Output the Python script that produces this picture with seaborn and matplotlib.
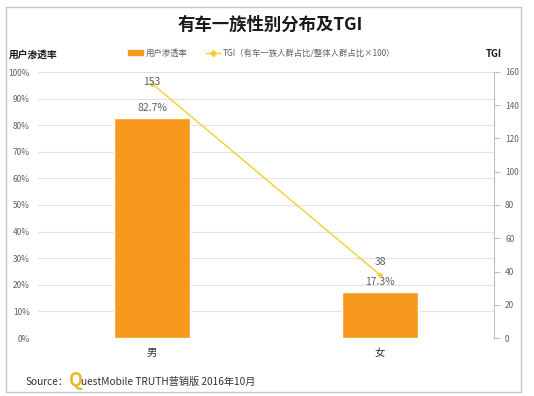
import seaborn as sns
import matplotlib.pyplot as plt
import pandas as pd
from matplotlib.patches import Rectangle
from matplotlib.lines import Line2D
from matplotlib.ticker import PercentFormatter

# dados
generos = ["男", "女"]
penetracao = [82.7, 17.3]
tgi = [153, 38]

sns.set_style("white")
plt.rcParams['font.family'] = ['Noto Sans CJK SC', 'DejaVu Sans']

df = pd.DataFrame({"genero": generos, "pen": penetracao, "tgi": tgi})

laranja = "#f7991c"
amarelo = "#f2d030"
cinza = "#616161"

fig = plt.figure(figsize=(5.34, 3.96), dpi=100)
ax = fig.add_axes([38/534, 1-338/396, 456/534, 266/396])

sns.barplot(data=df, x="genero", y="pen", color=laranja, width=0.33,
            saturation=1, ax=ax)
ax.set_ylim(0, 100)
ax.set_xlim(-0.5, 1.5)
ax.set_yticks(range(0, 101, 10))
ax.yaxis.set_major_formatter(PercentFormatter(decimals=0))
ax.grid(axis="y", color="#e3e3e3", lw=0.8)
ax.set_axisbelow(True)
for s in ax.spines.values():
  s.set_visible(False)
ax.tick_params(axis="y", labelsize=6, colors=cinza, length=0, pad=6)
ax.tick_params(axis="x", labelsize=7.5, colors="#333333", length=0, pad=7)
ax.set_xlabel("")
ax.set_ylabel("")

ax2 = ax.twinx()
sns.lineplot(data=df, x="genero", y="tgi", color=amarelo, lw=1, marker="D",
             markersize=3, markeredgewidth=0, ax=ax2)
ax2.set_ylim(0, 160)
ax2.set_yticks(range(0, 161, 20))
for s in ["top", "left", "bottom"]:
  ax2.spines[s].set_visible(False)
ax2.spines["right"].set_color("#bfbfbf")
ax2.spines["right"].set_linewidth(0.8)
ax2.tick_params(axis="y", labelsize=6, colors=cinza, length=4, color="#bfbfbf", pad=4)
ax2.set_ylabel("")

# rótulos
for i, v in enumerate(penetracao):
  ax.text(i, v + 2, f"{v}%", ha="center", va="bottom", fontsize=7.5, color=cinza)
desloc = [1, 9]
for i, v in enumerate(tgi):
  ax2.annotate(str(v), (i, v), xytext=(0, desloc[i]), textcoords="offset points",
               ha="center", va="center", fontsize=7.5, color=cinza)

# títulos
fig.text(0.505, 1-25/396, "有车一族性别分布及TGI", ha="center", va="center",
         fontsize=12.5, fontweight="bold", color="#1a1a1a")
fig.text(9/534, 1-55/396, "用户渗透率", ha="left", va="center", fontsize=7,
         fontweight="bold", color="#1a1a1a")
fig.text(494/534, 1-54/396, "TGI", ha="center", va="center", fontsize=7,
         fontweight="bold", color="#1a1a1a")

handles = [Rectangle((0, 0), 1, 1, color=laranja),
           Line2D([], [], color=amarelo, lw=1, marker="D", markersize=3)]
fig.legend(handles, ["用户渗透率", "TGI（有车一族人群占比/整体人群占比×100）"],
           loc="center", bbox_to_anchor=(0.49, 1-53/396), ncol=2, frameon=False,
           fontsize=6, labelcolor=cinza, handlelength=1.8, handleheight=0.5,
           columnspacing=2.2, handletextpad=0.3)

# fonte
fig.text(25/534, 1-382/396, "Source：", ha="left", va="center", fontsize=7.3, color="#333333")
fig.text(69/534, 1-380/396, "Q", ha="left", va="center", fontsize=13,
         fontweight="bold", color="#e9b92a")
fig.text(81/534, 1-382/396, "uestMobile TRUTH营销版 2016年10月", ha="left",
         va="center", fontsize=7.3, color="#333333")

fig.patches.append(Rectangle((6/534, 1-392/396), 515/534, 385/396, fill=False,
                             edgecolor="#c8c8c8", lw=1, transform=fig.transFigure,
                             figure=fig))

fig.savefig("out.png", dpi=100)
